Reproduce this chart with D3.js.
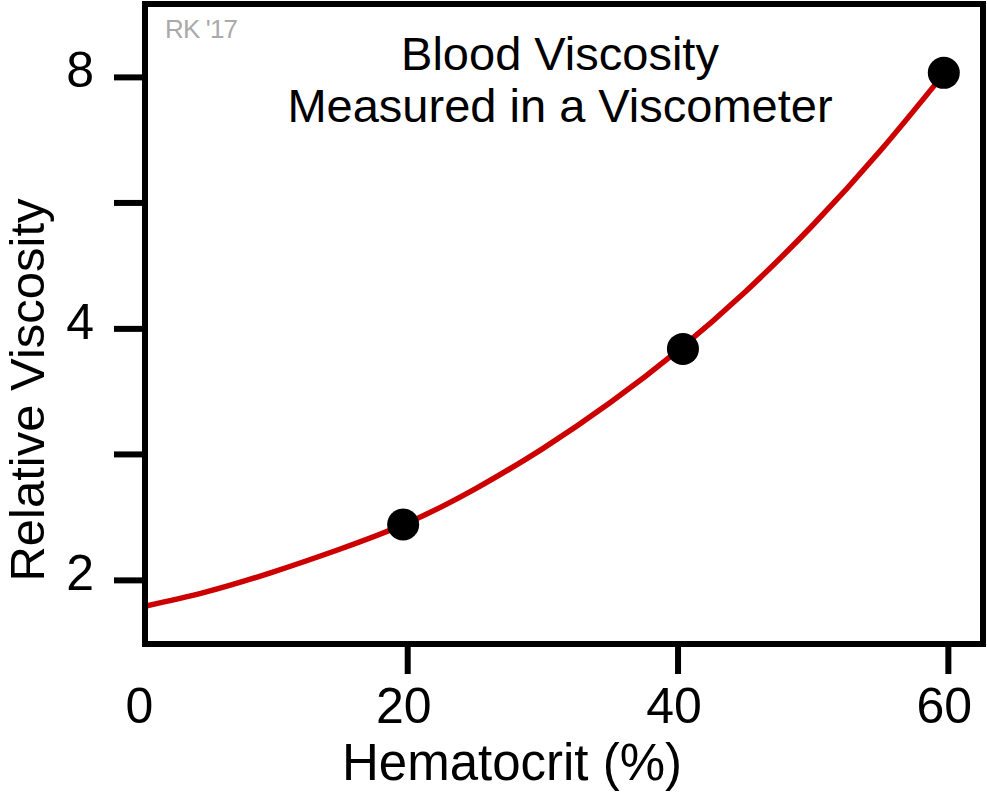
<!DOCTYPE html>
<html>
<head>
<meta charset="utf-8">
<script src="https://cdn.jsdelivr.net/npm/d3@7"></script>
<style>
  body { margin: 0; background: #fff; }
  svg { display: block; font-family: "Liberation Sans", Arial, sans-serif; }
</style>
</head>
<body>
<div id="chart"></div>
<script>
// fitted curve (hematocrit %, relative viscosity)
const curveHct = [0.6, 5, 10, 15, 20, 25, 30, 35, 40, 45, 50, 55, 59.7]
const curveVisc = [1.86, 1.932, 2.042, 2.176, 2.339, 2.569, 2.87, 3.258, 3.76, 4.423, 5.315, 6.526, 8.067]

// measured points
const pointHct = [19.7, 40.4, 59.7]
const pointVisc = [2.33, 3.78, 8.09]

const xTicks = [0, 20, 40, 60]
const yTicks = [2, 2.83, 4, 5.66, 8]
const yTickLabels = ['2', '', '4', '', '8']

const width = 987, height = 792
const margin = ({ top: 4, right: 4, bottom: 148, left: 145 })

const svg = d3.select('#chart')
    .append('svg')
    .attr('width', width)
    .attr('height', height)

const x = d3.scaleLinear()
    .domain([0.6, 62.6])
    .range([margin.left, width - margin.right])
const y = d3.scaleLog()
    .base(2)
    .domain([1.676, 9.78])
    .range([height - margin.bottom, margin.top])

const xAxis = g => g
    .attr('transform', `translate(0,${height - margin.bottom})`)
    .call(d3.axisBottom(x).tickValues(xTicks).tickSize(30).tickPadding(13).tickFormat(d3.format('d')))
const yAxis = g => g
    .attr('transform', `translate(${margin.left},0)`)
    .call(d3.axisLeft(y).tickValues(yTicks).tickSize(31).tickPadding(20)
        .tickFormat((d, i) => yTickLabels[i]))

const line = d3.line()
    .x(d => x(d[0]))
    .y(d => y(d[1]))
    .curve(d3.curveNatural)

svg.append('path')
    .datum(curveHct.map((h, i) => [h, curveVisc[i]]))
    .attr('fill', 'none')
    .attr('stroke', '#cc0000')
    .attr('stroke-width', 5.5)
    .attr('d', line)

svg.selectAll('.pt')
    .data(pointHct.map((h, i) => [h, pointVisc[i]]))
    .join('circle')
    .attr('class', 'pt')
    .attr('cx', d => x(d[0]))
    .attr('cy', d => y(d[1]))
    .attr('r', 16)
    .attr('fill', '#000')

svg.append('g').attr('class', 'x-axis').call(xAxis)
svg.append('g').attr('class', 'y-axis').call(yAxis)

svg.selectAll('.domain').remove()
svg.selectAll('.tick line')
    .attr('stroke', '#000')
    .attr('stroke-width', 6)
svg.selectAll('.tick text')
    .attr('fill', '#000')
    .style('font-size', '50px')
// no tick mark for 0, it sits outside the frame
svg.select('.x-axis').selectAll('.tick').filter(d => d === 0).select('line').remove()
svg.select('.x-axis').selectAll('.tick text').attr('dx', d => d === 0 ? 2 : -4)
svg.select('.y-axis').selectAll('.tick text').attr('dy', '0.2em')

// frame
svg.append('rect')
    .attr('x', margin.left)
    .attr('y', margin.top)
    .attr('width', width - margin.left - margin.right)
    .attr('height', height - margin.top - margin.bottom)
    .attr('fill', 'none')
    .attr('stroke', '#000')
    .attr('stroke-width', 6)

svg.append('text')
    .attr('x', 512)
    .attr('y', 780)
    .attr('text-anchor', 'middle')
    .style('font-size', '51px')
    .text('Hematocrit (%)')

svg.append('text')
    .attr('transform', 'translate(44,390) rotate(-90)')
    .attr('text-anchor', 'middle')
    .style('font-size', '49px')
    .text('Relative Viscosity')

const title = svg.append('text')
    .attr('text-anchor', 'middle')
    .style('font-size', '47px')
title.append('tspan').attr('x', 560).attr('y', 70).text('Blood Viscosity')
title.append('tspan').attr('x', 560).attr('y', 122).text('Measured in a Viscometer')

svg.append('text')
    .attr('x', 165)
    .attr('y', 38)
    .attr('fill', '#aaa')
    .attr('textLength', 73)
    .style('font-size', '26px')
    .text("RK '17")
</script>
</body>
</html>
